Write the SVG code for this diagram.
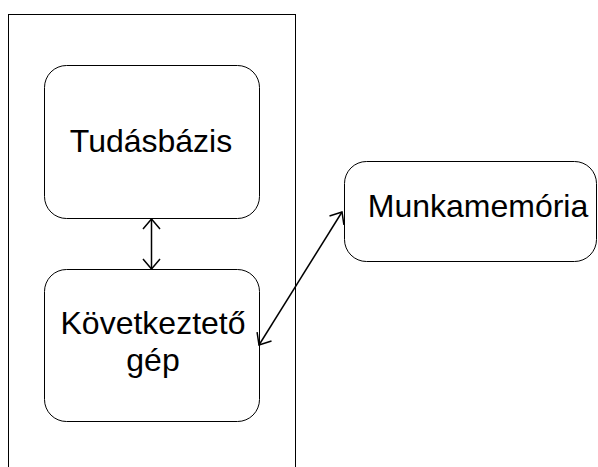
<svg xmlns="http://www.w3.org/2000/svg" width="598" height="467" viewBox="0 0 598 467">
<style>
.box{fill:#fff;stroke:#000;stroke-width:1}
.lbl{font-family:"Liberation Sans",Arial,sans-serif;font-size:32px;fill:#000;text-anchor:middle}
.conn{stroke:#000;stroke-width:1.5;fill:none}
</style>
<defs>
<marker id="ah" viewBox="0 0 12 20" refX="11" refY="10" markerWidth="12" markerHeight="20" markerUnits="userSpaceOnUse" orient="auto-start-reverse">
<polyline points="1,1.5 11,10 1,18.5" fill="none" stroke="#000" stroke-width="1.5"/>
</marker>
</defs>
<rect x="8.5" y="14.5" width="287" height="470" fill="#fff" stroke="#000" stroke-width="1"/>
<g id="tudasbazis">
<rect class="box" x="44.5" y="65.5" width="215" height="153" rx="22" ry="22"/>
<text class="lbl" x="151" y="152">Tudásbázis</text>
</g>
<g id="kovetkezteto">
<rect class="box" x="44.5" y="269.5" width="215" height="152" rx="22" ry="22"/>
<text class="lbl" x="153" y="334">Következtető</text>
<text class="lbl" x="153" y="371">gép</text>
</g>
<g id="munkamemoria">
<rect class="box" x="344.5" y="161.5" width="252" height="100" rx="22" ry="22"/>
<text class="lbl" x="478" y="217">Munkamemória</text>
</g>
<g id="connectors">
<line class="conn" x1="151.5" y1="219" x2="151.5" y2="269" marker-start="url(#ah)" marker-end="url(#ah)"/>
<line class="conn" x1="259" y1="345" x2="342" y2="212" marker-start="url(#ah)" marker-end="url(#ah)"/>
</g>
</svg>
